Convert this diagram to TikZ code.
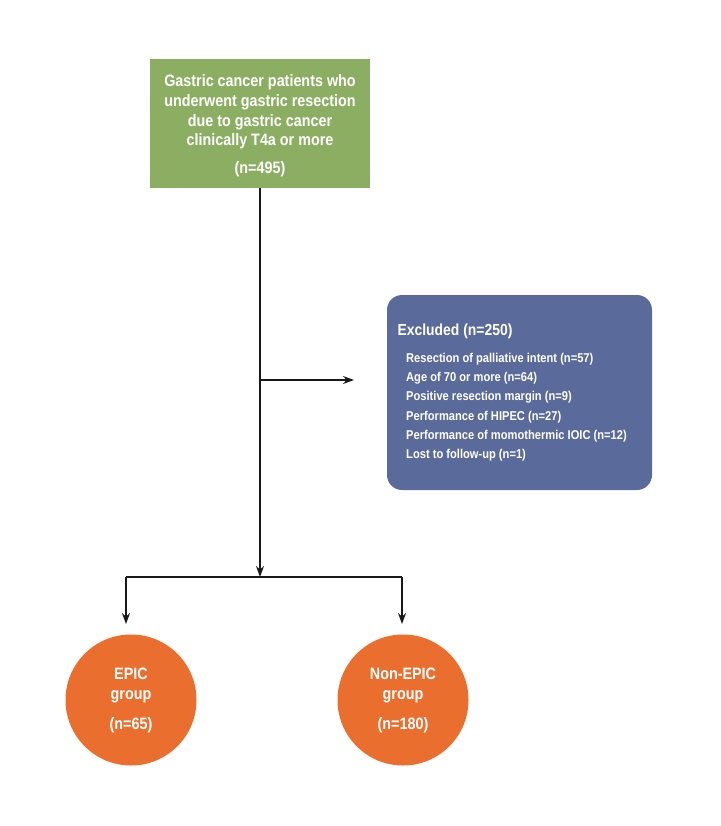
\documentclass[tikz,border=0pt]{standalone}
\usepackage{fontspec}
\setmainfont{Liberation Sans}[FakeStretch=0.87]
\usetikzlibrary{arrows.meta}
\definecolor{boxgreen}{RGB}{139,174,98}
\definecolor{boxblue}{RGB}{90,106,155}
\definecolor{circorange}{RGB}{234,110,46}
\tikzset{
  conn/.style={line width=1.6pt, draw=black!90},
  arr/.style={conn, -{Stealth[length=11pt,width=8pt]}},
  circ/.style={circle, fill=circorange, minimum size=131pt, inner sep=0pt, text=white, font=\bfseries\fontsize{16.5}{20}\selectfont, align=center},
}
\begin{document}
\begin{tikzpicture}[x=1pt,y=-1pt]
\useasboundingbox (0,0) rectangle (720,826);
% top box
\node[fill=boxgreen, minimum width=220pt, minimum height=129pt, inner sep=0pt] (top) at (260,123.5) {};
\node[text=white, align=center, font=\bfseries\fontsize{16.5}{19.8}\selectfont] (toptext) at (260,112) {Gastric cancer patients who\\underwent gastric resection\\due to gastric cancer\\clinically T4a or more};
\node[text=white, font=\bfseries\fontsize{16.5}{19.8}\selectfont] (topn) at (260,169) {(n=495)};
% excluded box
\node[fill=boxblue, rounded corners=15pt, minimum width=265pt, minimum height=195pt, inner sep=0pt] (excl) at (519.5,392.5) {};
\node[text=white, anchor=west, font=\bfseries\fontsize{16}{18}\selectfont] (exclt) at (394,331) {Excluded (n=250)};
\node[text=white, anchor=north west, align=left, font=\bfseries\fontsize{12.8}{19.2}\selectfont, inner sep=0pt] (excli) at (406,353) {Resection of palliative intent (n=57)\\Age of 70 or more (n=64)\\Positive resection margin (n=9)\\Performance of HIPEC (n=27)\\Performance of momothermic IOIC (n=12)\\Lost to follow-up (n=1)};
% circles
\node[circ] (epic) at (131,700) {EPIC\\group\\[10pt](n=65)};
\node[circ] (nonepic) at (403,700) {Non-EPIC\\group\\[10pt](n=180)};
% connectors
\coordinate (split) at (260,577);
\coordinate (bl) at (126,577);
\coordinate (br) at (402,577);
\coordinate (mid) at (260,380);
\coordinate (exclin) at (354,380);
\coordinate (epicin) at (126,624);
\coordinate (nonin) at (402,624);
\draw[arr] (top.south) -- (split);
\draw[arr] (mid) -- (exclin);
\draw[conn] (bl) -- (br);
\draw[arr] (bl) -- (epicin);
\draw[arr] (br) -- (nonin);
\end{tikzpicture}
\end{document}
